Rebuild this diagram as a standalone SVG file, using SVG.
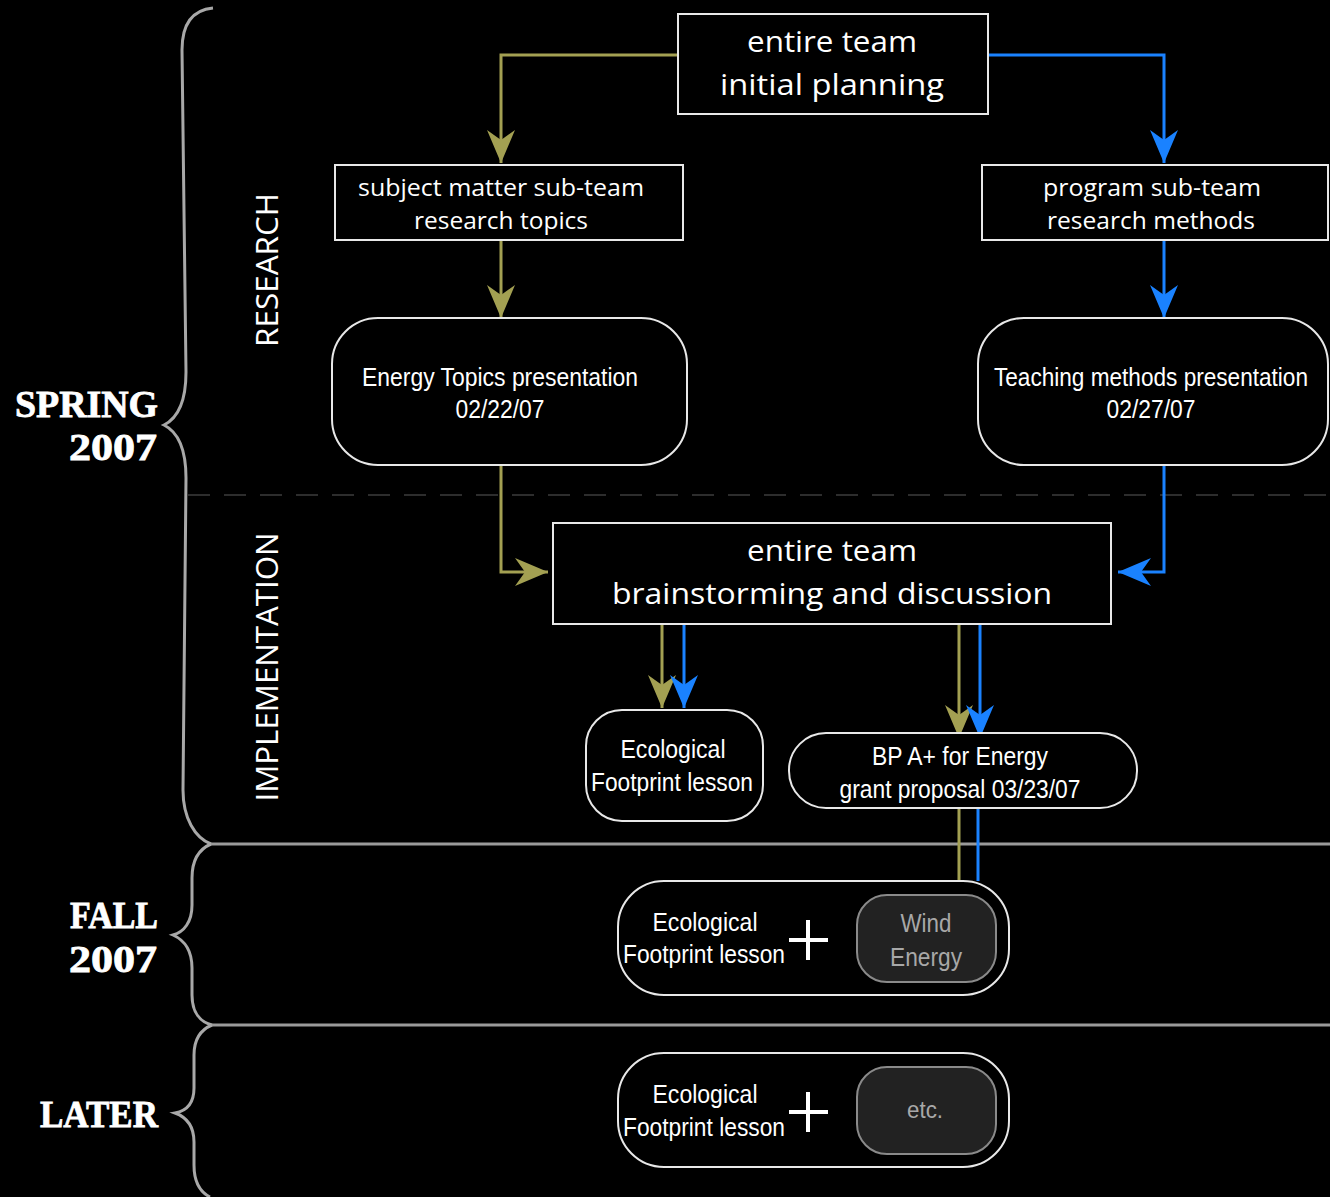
<svg xmlns="http://www.w3.org/2000/svg" width="1330" height="1197" viewBox="0 0 1330 1197">
<defs>
<style>
.box{fill:#000;stroke:#e8e8e8;stroke-width:2}
.sub{fill:#222;stroke:#8a8a8a;stroke-width:2}
.t{font-family:"Open Sans","Liberation Sans",sans-serif;fill:#fff;text-anchor:middle}
.a{font-family:"Liberation Sans",Arial,sans-serif;fill:#fff;text-anchor:middle}
.g{fill:#a8a8a8}
.st{font-family:"Liberation Serif","DejaVu Serif",serif;font-weight:bold;fill:#fff;text-anchor:end}
.brace{fill:none;stroke:#a8a8a8;stroke-width:3}
.olive{fill:none;stroke:#a3a052;stroke-width:3}
.blue{fill:none;stroke:#1a82ff;stroke-width:3}
</style>
<marker id="ao" markerUnits="userSpaceOnUse" markerWidth="36" markerHeight="30" viewBox="-34 -15 36 30" refX="0" refY="0" orient="auto" overflow="visible"><path d="M0,0 L-33,-14 L-23,0 L-33,14 Z" fill="#a3a052"/></marker>
<marker id="ab" markerUnits="userSpaceOnUse" markerWidth="36" markerHeight="30" viewBox="-34 -15 36 30" refX="0" refY="0" orient="auto" overflow="visible"><path d="M0,0 L-33,-14 L-23,0 L-33,14 Z" fill="#1a82ff"/></marker>
</defs>
<rect width="1330" height="1197" fill="#000"/>

<g id="frame">
<path class="brace" d="M213,8 C192,10 182,25 182,50 L186,372 C186,400 178,418 164,425 C178,432 186,448 186,478 L183,790 C183,818 195,838 211,844"/>
<path class="brace" d="M211,844 C197,850 192,862 192,878 L192,905 C192,922 184,932 173,935 C184,940 192,950 192,968 L192,995 C192,1012 200,1022 212,1025"/>
<path class="brace" d="M212,1025 C200,1030 194,1040 194,1055 L194,1088 C194,1104 186,1111 175,1113 C186,1117 194,1125 194,1142 L194,1165 C194,1182 200,1192 210,1197"/>
<line x1="211" y1="844" x2="1330" y2="844" stroke="#9a9a9a" stroke-width="3"/>
<line x1="212" y1="1025" x2="1330" y2="1025" stroke="#9a9a9a" stroke-width="3"/>
<line x1="188" y1="495" x2="1330" y2="495" stroke="#3c3c3c" stroke-width="1.5" stroke-dasharray="22 14"/>
<text class="st" x="158" y="417" font-size="38" stroke="#fff" stroke-width="0.8" textLength="143" lengthAdjust="spacingAndGlyphs">SPRING</text>
<text class="st" x="157" y="460" font-size="38" stroke="#fff" stroke-width="0.8" textLength="88" lengthAdjust="spacingAndGlyphs">2007</text>
<text class="st" x="158" y="928" font-size="38" stroke="#fff" stroke-width="0.8" textLength="88" lengthAdjust="spacingAndGlyphs">FALL</text>
<text class="st" x="157" y="972" font-size="38" stroke="#fff" stroke-width="0.8" textLength="88" lengthAdjust="spacingAndGlyphs">2007</text>
<text class="st" x="158" y="1127" font-size="38" stroke="#fff" stroke-width="0.8" textLength="118" lengthAdjust="spacingAndGlyphs">LATER</text>
<text class="t" transform="translate(278,270) rotate(-90)" font-size="31" textLength="154" lengthAdjust="spacingAndGlyphs">RESEARCH</text>
<text class="t" transform="translate(278,667) rotate(-90)" font-size="31" textLength="269" lengthAdjust="spacingAndGlyphs">IMPLEMENTATION</text>
</g>

<g id="connectors">
<path class="olive" d="M678,55 L501,55 L501,163" marker-end="url(#ao)"/>
<path class="blue" d="M988,55 L1164,55 L1164,163" marker-end="url(#ab)"/>
<path class="olive" d="M501,240 L501,318" marker-end="url(#ao)"/>
<path class="blue" d="M1164,240 L1164,318" marker-end="url(#ab)"/>
<path class="olive" d="M501,465 L501,572 L548,572" marker-end="url(#ao)"/>
<path class="blue" d="M1164,465 L1164,572 L1118,572" marker-end="url(#ab)"/>
<path class="olive" d="M662,624 L662,708" marker-end="url(#ao)"/>
<path class="blue" d="M684,624 L684,708" marker-end="url(#ab)"/>
<path class="olive" d="M959,624 L959,738" marker-end="url(#ao)"/>
<path class="blue" d="M980,624 L980,738" marker-end="url(#ab)"/>
<path class="olive" d="M959,808 L959,881"/>
<path class="blue" d="M978,808 L978,881"/>
</g>

<g id="n-initial">
<rect class="box" x="678" y="14" width="310" height="100"/>
<text class="t" x="832" y="52" font-size="30" textLength="170" lengthAdjust="spacingAndGlyphs">entire team</text>
<text class="t" x="832" y="95" font-size="30" textLength="224" lengthAdjust="spacingAndGlyphs">initial planning</text>
</g>
<g id="n-subject">
<rect class="box" x="335" y="165" width="348" height="75"/>
<text class="t" x="501" y="196" font-size="24" textLength="286" lengthAdjust="spacingAndGlyphs">subject matter sub-team</text>
<text class="t" x="501" y="229" font-size="24" textLength="174" lengthAdjust="spacingAndGlyphs">research topics</text>
</g>
<g id="n-program">
<rect class="box" x="982" y="165" width="346" height="75"/>
<text class="t" x="1152" y="196" font-size="24" textLength="218" lengthAdjust="spacingAndGlyphs">program sub-team</text>
<text class="t" x="1151" y="229" font-size="24" textLength="208" lengthAdjust="spacingAndGlyphs">research methods</text>
</g>
<g id="n-energy">
<rect class="box" x="332" y="318" width="355" height="147" rx="46"/>
<text class="a" x="500" y="386" font-size="26" textLength="276" lengthAdjust="spacingAndGlyphs">Energy Topics presentation</text>
<text class="a" x="500" y="418" font-size="26" textLength="89" lengthAdjust="spacingAndGlyphs">02/22/07</text>
</g>
<g id="n-teaching">
<rect class="box" x="978" y="318" width="350" height="147" rx="46"/>
<text class="a" x="1151" y="386" font-size="26" textLength="314" lengthAdjust="spacingAndGlyphs">Teaching methods presentation</text>
<text class="a" x="1151" y="418" font-size="26" textLength="89" lengthAdjust="spacingAndGlyphs">02/27/07</text>
</g>
<g id="n-brainstorm">
<rect class="box" x="553" y="523" width="558" height="101"/>
<text class="t" x="832" y="561" font-size="30" textLength="170" lengthAdjust="spacingAndGlyphs">entire team</text>
<text class="t" x="832" y="604" font-size="30" textLength="440" lengthAdjust="spacingAndGlyphs">brainstorming and discussion</text>
</g>
<g id="n-eco">
<rect class="box" x="586" y="710" width="177" height="111" rx="36"/>
<text class="a" x="673" y="758" font-size="26" textLength="105" lengthAdjust="spacingAndGlyphs">Ecological</text>
<text class="a" x="672" y="791" font-size="26" textLength="162" lengthAdjust="spacingAndGlyphs">Footprint lesson</text>
</g>
<g id="n-bp">
<rect class="box" x="789" y="733" width="348" height="75" rx="37"/>
<text class="a" x="960" y="765" font-size="26" textLength="176" lengthAdjust="spacingAndGlyphs">BP A+ for Energy</text>
<text class="a" x="960" y="798" font-size="26" textLength="241" lengthAdjust="spacingAndGlyphs">grant proposal 03/23/07</text>
</g>
<g id="n-fall">
<rect class="box" x="618" y="881" width="391" height="114" rx="46"/>
<text class="a" x="705" y="931" font-size="26" textLength="105" lengthAdjust="spacingAndGlyphs">Ecological</text>
<text class="a" x="704" y="963" font-size="26" textLength="162" lengthAdjust="spacingAndGlyphs">Footprint lesson</text>
<path d="M808,920 V960 M789,940 H828" stroke="#fff" stroke-width="4"/>
<rect class="sub" x="857" y="895" width="139" height="87" rx="30"/>
<text class="a g" x="926" y="932" font-size="26" textLength="51" lengthAdjust="spacingAndGlyphs">Wind</text>
<text class="a g" x="926" y="966" font-size="26" textLength="72" lengthAdjust="spacingAndGlyphs">Energy</text>
</g>
<g id="n-later">
<rect class="box" x="618" y="1053" width="391" height="114" rx="46"/>
<text class="a" x="705" y="1103" font-size="26" textLength="105" lengthAdjust="spacingAndGlyphs">Ecological</text>
<text class="a" x="704" y="1136" font-size="26" textLength="162" lengthAdjust="spacingAndGlyphs">Footprint lesson</text>
<path d="M808,1092 V1132 M789,1112 H828" stroke="#fff" stroke-width="4"/>
<rect class="sub" x="857" y="1067" width="139" height="87" rx="30"/>
<text class="a g" x="925" y="1118" font-size="24" textLength="36" lengthAdjust="spacingAndGlyphs">etc.</text>
</g>
</svg>
